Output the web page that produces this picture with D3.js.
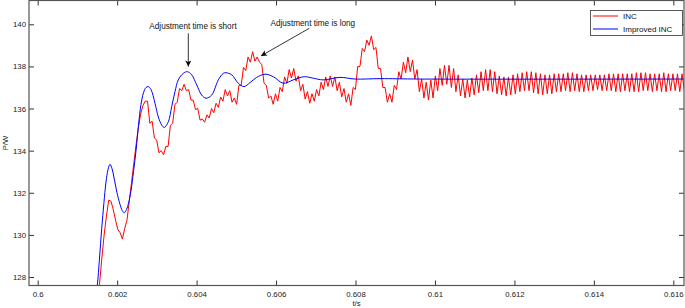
<!DOCTYPE html>
<html>
<head>
<meta charset="utf-8">
<script src="https://cdn.jsdelivr.net/npm/d3@7/dist/d3.min.js"></script>
<style>
  body { margin: 0; background: #fff; }
  svg text { font-family: "Liberation Sans", Arial, sans-serif; }
</style>
</head>
<body>
<div id="chart"></div>
<script>
// axis ticks
const xTicks = [0.6, 0.602, 0.604, 0.606, 0.608, 0.61, 0.612, 0.614, 0.616];
const xTickLabels = ["0.6", "0.602", "0.604", "0.606", "0.608", "0.61", "0.612", "0.614", "0.616"];
const yTicks = [128, 130, 132, 134, 136, 138, 140];
const seriesNames = ["INC", "Improved INC"];

// INC (red) - sampled output, first sample time and sample step
const incStart = 0.6015, incStep = 0.0000575;
const incP = [
  126.9, 127.7, 128.9, 130.0, 130.9, 131.65, 131.6, 131.2, 130.7, 130.25,
  130.1, 129.8, 130.3, 130.7, 131.6, 132.5, 133.4, 134.3, 135.1, 135.75,
  136.15, 136.35, 136.35, 135.3, 135.4, 134.6, 134.5, 133.9, 134.0, 133.8,
  134.2, 134.2, 135.2, 135.3, 136.2, 136.3, 136.95, 136.85, 137.15, 136.85,
  136.9, 136.4, 136.4, 135.95, 136.0, 135.45, 135.5, 135.35, 135.7, 135.55,
  136.0, 135.8, 136.25, 136.05, 136.55, 136.35, 136.9, 136.6, 136.85, 136.3,
  136.5, 136.2, 137.1, 137.1, 137.95, 137.8, 138.45, 138.2, 138.7, 138.25,
  138.45, 138.2, 138.1, 137.2, 137.1, 136.5, 136.6, 136.2, 136.7, 136.35,
  137.0, 136.8, 137.5, 137.2, 137.85, 137.45, 137.9, 137.3, 137.55, 136.85,
  137.15, 136.45, 136.8, 136.25, 136.7, 136.35, 136.9, 136.6, 137.25, 136.9,
  137.5, 137.05, 137.55, 137.05, 137.5, 136.85, 137.25, 136.55, 136.95, 136.3,
  136.7, 136.15, 137.0, 136.9, 138.0, 138.0, 138.85, 138.7, 139.25, 139.0,
  139.45, 138.8, 138.9, 137.9, 137.9, 137.0, 137.0, 136.3, 136.7, 136.3,
  137.1, 136.9, 137.75, 137.4, 138.2, 137.7, 138.45, 137.75, 138.3, 137.4,
  137.85, 136.8, 137.4, 136.5, 137.25, 136.4, 137.35, 136.5, 137.55, 136.85,
  137.9, 137.1, 138.05, 137.15, 138.05, 137.0, 137.9, 136.8, 137.6, 136.6,
  137.4, 136.5, 137.35, 136.55, 137.45, 136.65, 137.6, 136.75, 137.75, 136.85,
  137.85, 136.85, 137.85, 136.8, 137.75, 136.7, 137.55, 136.65, 137.5, 136.6,
  137.5, 136.65, 137.6, 136.7, 137.65, 136.8, 137.7, 136.85, 137.75, 136.85,
  137.75, 136.75, 137.7, 136.7, 137.65, 136.65, 137.6, 136.7, 137.6, 136.7,
  137.65, 136.8, 137.65, 136.8, 137.65, 136.85, 137.7, 136.8, 137.7, 136.85,
  137.65, 136.8, 137.6, 136.8, 137.6, 136.85, 137.6, 136.85, 137.6, 136.9,
  137.6, 136.85, 137.6, 136.85, 137.65, 136.85, 137.65, 136.8, 137.65, 136.8,
  137.65, 136.85, 137.65, 136.8, 137.65, 136.8, 137.7, 136.8, 137.7, 136.85,
  137.7, 136.85, 137.65, 136.8, 137.65, 136.85, 137.65, 136.8, 137.7, 136.8,
  137.65, 136.85, 137.65, 136.85, 137.65, 136.8, 137.65, 136.85
];

// Improved INC (blue)
const impT = [
  0.601442, 0.601500, 0.601556, 0.601611, 0.601666, 0.601719, 0.601770, 0.601820,
  0.601870, 0.601933, 0.601996, 0.602072, 0.602130, 0.602180, 0.602235, 0.602286,
  0.602349, 0.602412, 0.602475, 0.602537, 0.602600, 0.602663, 0.602726, 0.602784,
  0.602852, 0.602953, 0.603036, 0.603121, 0.603187, 0.603288, 0.603373, 0.603456,
  0.603539, 0.603665, 0.603766, 0.603877, 0.604003, 0.604128, 0.604237, 0.604380,
  0.604546, 0.604672, 0.604740, 0.604884, 0.605050, 0.605193, 0.605344, 0.605513,
  0.605722, 0.605931, 0.606183, 0.606434, 0.606711, 0.606938, 0.607189, 0.607610,
  0.607987, 0.608617, 0.609624, 0.616269
];
const impP = [
  126.9, 127.6, 128.9, 130.3, 131.5, 132.5, 133.1, 133.35,
  133.15, 132.6, 132.0, 131.45, 131.15, 131.05, 131.2, 131.5,
  132.1, 133.0, 134.0, 135.2, 136.2, 136.75, 137.0, 137.04,
  136.9, 136.25, 135.6, 135.22, 135.1, 135.37, 136.09, 136.8,
  137.36, 137.67, 137.75, 137.6, 137.12, 136.64, 136.49, 136.64,
  137.36, 137.67, 137.7, 137.6, 137.2, 137.04, 137.23, 137.48,
  137.63, 137.51, 137.2, 137.36, 137.51, 137.44, 137.36, 137.48,
  137.4, 137.42, 137.4, 137.4
];

const width = 685, height = 308;
const mLeft = 29, mRight = 684, mTop = 0.5, mBottom = 285.5;

const svg = d3.select("#chart")
  .append("svg")
  .attr("width", width)
  .attr("height", height)
  .attr("viewBox", [0, 0, width, height]);

const x = d3.scaleLinear().domain([0.599781, 0.616269]).range([mLeft, mRight]);
const y = d3.scaleLinear().domain([127.596, 141.13]).range([mBottom, mTop]);

const defs = svg.append("defs");
defs.append("clipPath")
  .attr("id", "plot-clip")
  .append("rect")
  .attr("x", mLeft).attr("y", mTop)
  .attr("width", mRight - mLeft).attr("height", mBottom - mTop);

const incData = incP.map((p, i) => ({t: incStart + i * incStep, p: p}));
const impData = impT.map((t, i) => ({t: t, p: impP[i]}));

const lineInc = d3.line().x(d => x(d.t)).y(d => y(d.p));
const lineImp = d3.line().x(d => x(d.t)).y(d => y(d.p)).curve(d3.curveCatmullRom.alpha(0.5));

const plot = svg.append("g").attr("clip-path", "url(#plot-clip)");

plot.append("path")
  .datum(incData)
  .attr("fill", "none")
  .attr("stroke", "#ff0000")
  .attr("stroke-width", 1)
  .attr("d", lineInc);

plot.append("path")
  .datum(impData)
  .attr("fill", "none")
  .attr("stroke", "#0000ff")
  .attr("stroke-width", 1)
  .attr("d", lineImp);

// axes, ticks pointing inward like matlab
const tickLen = 5;
const styleAxis = g => {
  g.select(".domain").remove();
  g.selectAll(".tick line").attr("stroke", "#333");
  g.selectAll(".tick text").attr("fill", "#222").attr("font-size", "7.8px");
};

svg.append("g")
  .attr("transform", `translate(0,${mBottom})`)
  .call(d3.axisBottom(x).tickValues(xTicks).tickFormat((d, i) => xTickLabels[i])
    .tickSizeInner(-tickLen).tickSizeOuter(0).tickPadding(5.5))
  .call(styleAxis);

svg.append("g")
  .attr("transform", `translate(0,${mTop})`)
  .call(d3.axisTop(x).tickValues(xTicks).tickFormat("")
    .tickSizeInner(-tickLen).tickSizeOuter(0))
  .call(styleAxis);

svg.append("g")
  .attr("transform", `translate(${mLeft},0)`)
  .call(d3.axisLeft(y).tickValues(yTicks).tickFormat(d3.format("d"))
    .tickSizeInner(-tickLen).tickSizeOuter(0).tickPadding(3))
  .call(styleAxis);

svg.append("g")
  .attr("transform", `translate(${mRight},0)`)
  .call(d3.axisRight(y).tickValues(yTicks).tickFormat("")
    .tickSizeInner(-tickLen).tickSizeOuter(0))
  .call(styleAxis);

svg.append("rect")
  .attr("x", mLeft).attr("y", mTop)
  .attr("width", mRight - mLeft).attr("height", mBottom - mTop)
  .attr("fill", "none")
  .attr("stroke", "#555")
  .attr("stroke-width", 1.2);

// axis labels
svg.append("text")
  .attr("x", (mLeft + mRight) / 2)
  .attr("y", 305.5)
  .attr("text-anchor", "middle")
  .attr("font-size", "7.8px")
  .attr("fill", "#222")
  .text("t/s");

svg.append("text")
  .attr("transform", `translate(8,${(mTop + mBottom) / 2}) rotate(-90)`)
  .attr("text-anchor", "middle")
  .attr("font-size", "7.8px")
  .attr("fill", "#222")
  .text("P/W");

// legend
const legend = svg.append("g");
legend.append("rect")
  .attr("x", 590.5).attr("y", 10.5)
  .attr("width", 92).attr("height", 25)
  .attr("fill", "#fff")
  .attr("stroke", "#333")
  .attr("stroke-width", 0.8);

const legendColors = ["#ff0000", "#0000ff"];
const legendY = [16, 29];
seriesNames.forEach((name, i) => {
  legend.append("line")
    .attr("x1", 593).attr("x2", 618)
    .attr("y1", legendY[i]).attr("y2", legendY[i])
    .attr("stroke", legendColors[i])
    .attr("stroke-width", 1);
  legend.append("text")
    .attr("x", 623).attr("y", legendY[i])
    .attr("dy", "0.35em")
    .attr("font-size", "8px")
    .attr("fill", "#111")
    .text(name);
});

// annotations with arrows
defs.append("marker")
  .attr("id", "arrow")
  .attr("viewBox", "0 0 10 10")
  .attr("refX", 10).attr("refY", 5)
  .attr("markerUnits", "userSpaceOnUse")
  .attr("markerWidth", 7).attr("markerHeight", 6)
  .attr("orient", "auto")
  .append("path")
  .attr("d", "M0,0 L10,5 L0,10 L2.5,5 z")
  .attr("fill", "#000");

const notes = [
  {text: "Adjustment time is short", tx: 0.603909, tp: 139.79, from: [0.603791, 139.57], to: [0.603791, 137.99]},
  {text: "Adjustment time is long", tx: 0.606925, tp: 139.9, from: [0.606837, 139.81], to: [0.605621, 138.5]}
];

notes.forEach(n => {
  svg.append("text")
    .attr("x", x(n.tx)).attr("y", y(n.tp))
    .attr("text-anchor", "middle")
    .attr("font-size", "8.2px")
    .attr("fill", "#111")
    .text(n.text);
  svg.append("line")
    .attr("x1", x(n.from[0])).attr("y1", y(n.from[1]))
    .attr("x2", x(n.to[0])).attr("y2", y(n.to[1]))
    .attr("stroke", "#000")
    .attr("stroke-width", 0.8)
    .attr("marker-end", "url(#arrow)");
});
</script>
</body>
</html>
